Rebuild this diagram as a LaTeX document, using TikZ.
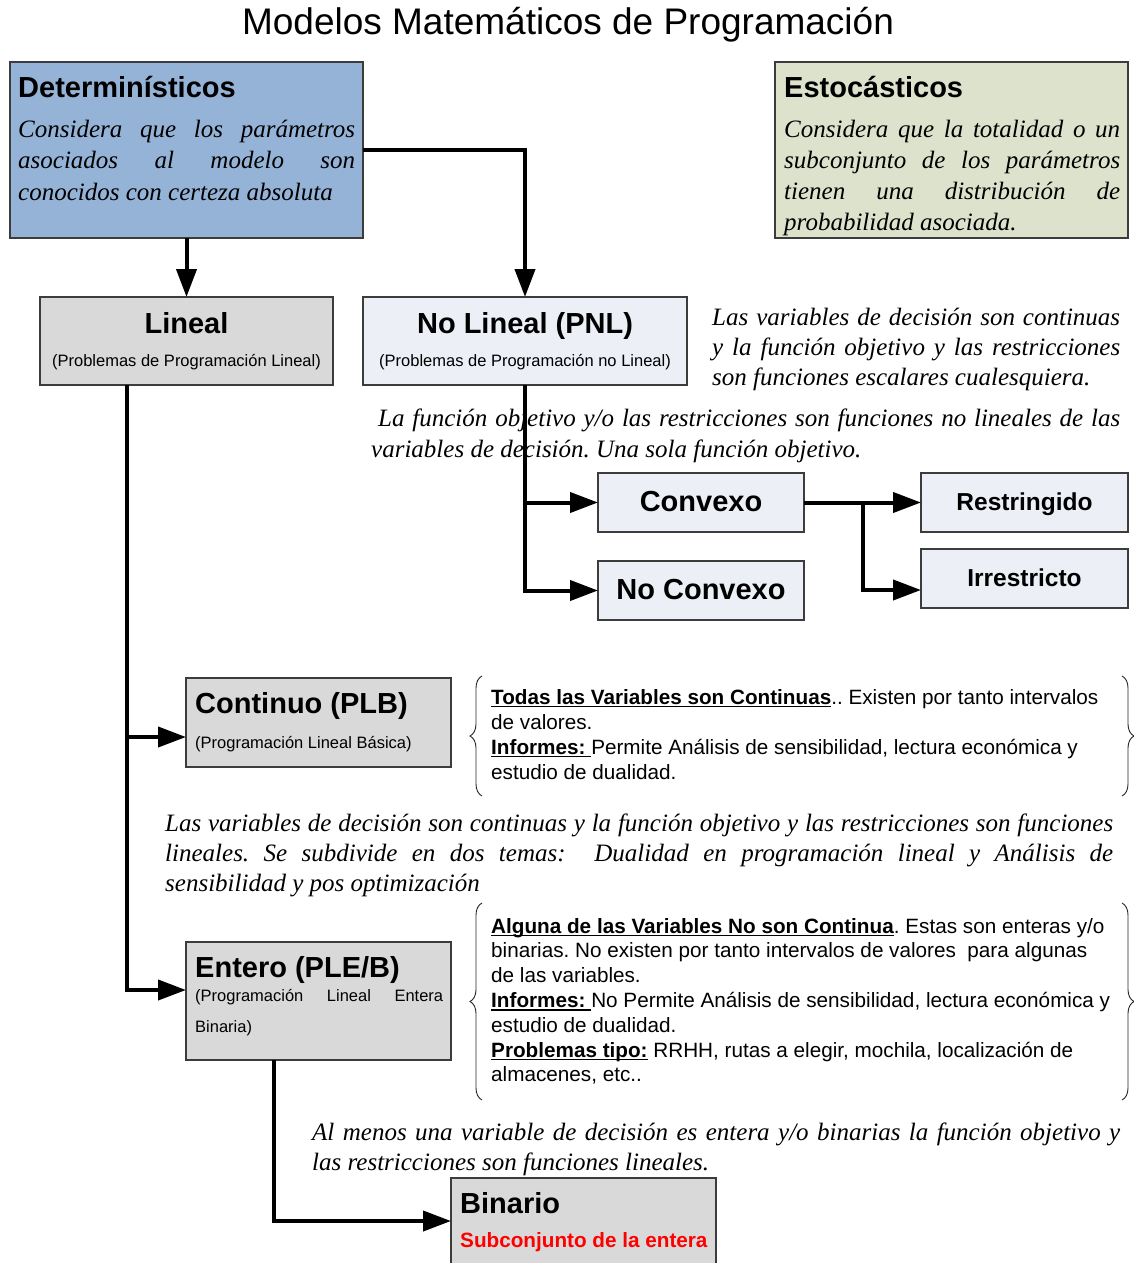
\documentclass[tikz,border=0pt]{standalone}
\usepackage{fontspec}
\setmainfont{Liberation Serif}
\setsansfont{Liberation Sans}
\usetikzlibrary{arrows.meta,decorations.pathreplacing,calc}
\definecolor{detfill}{RGB}{149,179,215}
\definecolor{estfill}{RGB}{221,226,204}
\definecolor{grayfill}{RGB}{217,217,217}
\definecolor{lightfill}{RGB}{236,240,246}
\definecolor{boxline}{RGB}{60,60,60}
\definecolor{redtxt}{RGB}{255,0,0}
\newcommand{\jl}[2]{\makebox[#1][s]{#2}}
\newsavebox{\ulbox}
\newcommand{\myul}[1]{\sbox{\ulbox}{#1}\rlap{\rule[-3.2pt]{\wd\ulbox}{1.5pt}}\usebox{\ulbox}}
\newcommand{\ub}[1]{\myul{\textbf{#1}}}
\frenchspacing
\begin{document}
\frenchspacing
\begin{tikzpicture}[x=1pt,y=-1pt,
  box/.style={draw=boxline, line width=1.3pt, inner sep=0pt, outer sep=0pt, anchor=north west, rectangle},
  conn/.style={line width=4pt, -{Triangle[length=28pt,width=20pt]}},
  ttl/.style={font=\sffamily\bfseries\fontsize{29}{34}\selectfont, inner sep=0pt, anchor=base},
  sttl/.style={font=\sffamily\bfseries\fontsize{24.5}{30}\selectfont, inner sep=0pt, anchor=base},
  subt/.style={font=\sffamily\fontsize{16.5}{20}\selectfont, inner sep=0pt, anchor=base},
  itpar/.style={inner sep=0pt, anchor=base west},
  brtext/.style={inner sep=0pt, anchor=base west},
  brc/.style={decorate, decoration={brace, amplitude=12pt}, line width=0.9pt, draw=black!85}
]
\useasboundingbox (0,0) rectangle (1134,1263);
\fill[white] (0,0) rectangle (1134,1263);
\clip (0,0) rectangle (1134,1263);

% title
\node[inner sep=0pt, anchor=base, font=\sffamily\fontsize{37}{40}\selectfont] (title) at (568,35) {Modelos Matemáticos de Programación};

% boxes
\node[box, fill=detfill, minimum width=353pt, minimum height=176pt] (det) at (10,62) {};
\node[box, fill=estfill, minimum width=353pt, minimum height=176pt] (est) at (775,62) {};
\node[box, fill=grayfill, minimum width=293pt, minimum height=88pt] (lin) at (40,297) {};
\node[box, fill=lightfill, minimum width=324pt, minimum height=88pt] (nolin) at (363,297) {};
\node[box, fill=lightfill, minimum width=206pt, minimum height=59pt] (cvx) at (598,473) {};
\node[box, fill=lightfill, minimum width=206pt, minimum height=59pt] (ncvx) at (598,561) {};
\node[box, fill=lightfill, minimum width=207pt, minimum height=59pt] (restr) at (921,473) {};
\node[box, fill=lightfill, minimum width=207pt, minimum height=59pt] (irr) at (921,549) {};
\node[box, fill=grayfill, minimum width=265pt, minimum height=89pt] (cont) at (186,678) {};
\node[box, fill=grayfill, minimum width=265pt, minimum height=118pt] (ent) at (186,942) {};
\node[box, fill=grayfill, minimum width=265pt, minimum height=95pt] (bin) at (451,1178) {};

% box texts
\node[ttl, anchor=base west] (detT) at (18,97) {Determinísticos};
\node[itpar, font=\rmfamily\itshape\fontsize{25}{31.5}\selectfont] (detP) at (18,137)
 {\begin{tabular}[t]{@{}l@{}}\jl{337pt}{Considera que los parámetros}\\ \jl{337pt}{asociados al modelo son}\\ conocidos con certeza absoluta\end{tabular}};
\node[ttl, anchor=base west] (estT) at (784,97) {Estocásticos};
\node[itpar, font=\rmfamily\itshape\fontsize{25}{31}\selectfont] (estP) at (784,137)
 {\begin{tabular}[t]{@{}l@{}}\jl{336pt}{Considera que la totalidad o un}\\ \jl{336pt}{subconjunto de los parámetros}\\ \jl{336pt}{tienen una distribución de}\\ probabilidad asociada.\end{tabular}};

\node[ttl] (linT) at (186.5,333) {Lineal};
\node[subt] (linS) at (186.5,366) {(Problemas de Programación Lineal)};
\node[ttl] (nolinT) at (525,333) {No Lineal (PNL)};
\node[subt] (nolinS) at (525,366) {(Problemas de Programación no Lineal)};

\node[ttl] (cvxT) at (701,511) {Convexo};
\node[ttl] (ncvxT) at (701,599) {No Convexo};
\node[sttl] (restrT) at (1024.5,510) {Restringido};
\node[sttl] (irrT) at (1024.5,586) {Irrestricto};

\node[ttl, anchor=base west] (contT) at (195,713) {Continuo (PLB)};
\node[subt, anchor=base west] (contS) at (195,748) {(Programación Lineal Básica)};
\node[ttl, anchor=base west] (entT) at (195,977) {Entero (PLE/B)};
\node[subt, anchor=base west, font=\sffamily\fontsize{16.5}{31}\selectfont] (entS) at (195,1001)
 {\begin{tabular}[t]{@{}l@{}}\jl{248pt}{(Programación Lineal Entera}\\ Binaria)\end{tabular}};
\node[ttl, anchor=base west] (binT) at (460,1213) {Binario};
\node[inner sep=0pt, anchor=base west, text=redtxt, font=\sffamily\bfseries\fontsize{20.7}{24}\selectfont] (binS) at (460,1247) {Subconjunto de la entera};

% free paragraphs
\node[itpar, font=\rmfamily\itshape\fontsize{25}{30}\selectfont] (nlP) at (712,325)
 {\begin{tabular}[t]{@{}l@{}}\jl{408pt}{Las variables de decisión son continuas}\\ \jl{408pt}{y la función objetivo y las restricciones}\\ son funciones escalares cualesquiera.\end{tabular}};
\node[itpar, font=\rmfamily\itshape\fontsize{25}{31}\selectfont] (fnP) at (371,426)
 {\begin{tabular}[t]{@{}l@{}}\hspace*{7pt}\jl{742pt}{La función objetivo y/o las restricciones son funciones no lineales de las}\\ variables de decisión. Una sola función objetivo.\end{tabular}};
\node[itpar, font=\rmfamily\itshape\fontsize{25}{30}\selectfont] (linP) at (165,831)
 {\begin{tabular}[t]{@{}l@{}}\jl{948pt}{Las variables de decisión son continuas y la función objetivo y las restricciones son funciones}\\ \jl{948pt}{lineales. Se subdivide en dos temas: \ Dualidad en programación lineal y Análisis de}\\ sensibilidad y pos optimización\end{tabular}};
\node[itpar, font=\rmfamily\itshape\fontsize{25}{30}\selectfont] (entP) at (312,1140)
 {\begin{tabular}[t]{@{}l@{}}\jl{808pt}{Al menos una variable de decisión es entera y/o binarias la función objetivo y}\\ las restricciones son funciones lineales.\end{tabular}};

% brace texts
\node[brtext, font=\sffamily\fontsize{20.7}{25}\selectfont] (contB) at (491,704)
 {\begin{tabular}[t]{@{}l@{}}\ub{Todas las Variables son Continuas}.. Existen por tanto intervalos\\ de valores.\\ \myul{\textbf{Informes:}\ }Permite Análisis de sensibilidad, lectura económica y\\ estudio de dualidad.\end{tabular}};
\node[brtext, font=\sffamily\fontsize{20.7}{24.8}\selectfont] (entB) at (491,933)
 {\begin{tabular}[t]{@{}l@{}}\ub{Alguna de las Variables No son Continua}. Estas son enteras y/o\\ binarias. No existen por tanto intervalos de valores \ para algunas\\ de las variables.\\ \myul{\textbf{Informes:}\ }No Permite Análisis de sensibilidad, lectura económica y\\ estudio de dualidad.\\ \ub{Problemas tipo:} RRHH, rutas a elegir, mochila, localización de\\ almacenes, etc..\end{tabular}};

% braces
\draw[brc] (482,796) -- (482,676);
\draw[brc] (1122,676) -- (1122,796);
\draw[brc] (482,1100) -- (482,903);
\draw[brc] (1122,903) -- (1122,1100);

% connectors
\draw[conn] (det.south) -- (lin.north);
\draw[conn] (det.east) -| (nolin.north);
\coordinate (linDrop) at ([xshift=87pt]lin.south west);
\coordinate (contIn) at ([yshift=-14.5pt]cont.west);
\coordinate (entIn) at ([yshift=11pt]ent.west);
\draw[conn] (linDrop) |- (entIn);
\draw[conn] (linDrop |- contIn) -- (contIn);
\draw[conn] (nolin.south) |- (ncvx.west);
\draw[conn] (nolin.south |- cvx.west) -- (cvx.west);
\draw[conn] (cvx.east) -- (restr.west);
\coordinate (cvxSplit) at ($(cvx.east)!0.5!(restr.west)$);
\coordinate (irrIn) at ([yshift=-11.5pt]irr.west);
\draw[conn] (cvxSplit) |- (irrIn);
\coordinate (entDrop) at ([xshift=88pt]ent.south west);
\coordinate (binIn) at ([yshift=4.5pt]bin.west);
\draw[conn] (entDrop) |- (binIn);
\end{tikzpicture}
\end{document}
